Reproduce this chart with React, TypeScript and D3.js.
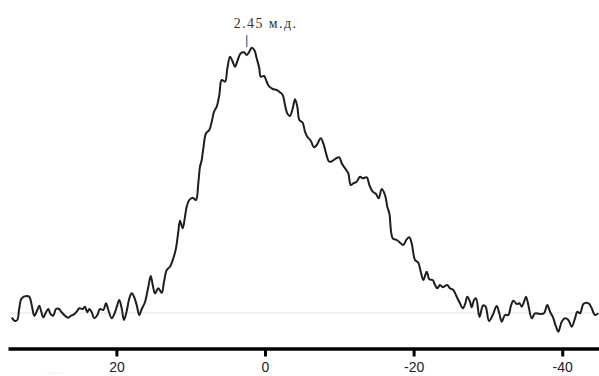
import React, { useRef, useEffect } from 'react';
import * as d3 from 'd3';

// chemical shift (ppm) and intensity (a.u.)
const shifts = [
  34.09, 33.65, 33.34, 33.07, 32.75, 32.07, 31.72, 31.40, 31.05, 30.65, 30.38, 30.11, 29.84, 29.48, 29.17, 28.84,
  28.49, 28.13, 27.73, 27.36, 26.92, 26.47, 26.11, 25.71, 25.34, 24.99, 24.54, 24.23, 23.92, 23.65, 23.32, 22.97,
  22.57, 22.21, 21.76, 21.40, 21.09, 20.63, 20.19, 19.88, 19.61, 19.29, 18.98, 18.61, 18.26, 17.94, 17.63, 17.27,
  16.92, 16.59, 16.15, 15.71, 15.38, 15.11, 14.80, 14.36, 13.90, 13.59, 13.23, 12.79, 12.34, 11.98, 11.67, 11.44,
  11.08, 10.77, 10.54, 10.19, 9.73, 9.29, 8.98, 8.75, 8.52, 8.30, 7.94, 7.50, 7.17, 6.86, 6.50, 6.15,
  5.83, 5.38, 5.07, 4.71, 4.35, 4.04, 3.67, 3.27, 2.83, 2.46, 2.11, 1.79, 1.44, 1.12, 0.77, 0.58,
  0.13, -0.23, -0.58, -1.04, -1.57, -1.92, -2.38, -2.69, -3.00, -3.36, -3.73, -4.04, -4.35, -4.62, -5.07, -5.38,
  -5.69, -6.15, -6.59, -6.96, -7.50, -7.85, -8.21, -8.65, -9.11, -9.56, -10.00, -10.32, -10.77, -11.21, -11.53, -11.88,
  -12.34, -12.79, -13.15, -13.69, -14.04, -14.50, -14.94, -15.30, -15.71, -16.15, -16.46, -16.73, -17.19, -17.73, -18.17, -18.61,
  -19.07, -19.42, -19.74, -20.19, -20.63, -20.96, -21.31, -21.76, -22.11, -22.57, -22.88, -23.19, -23.55, -23.92, -24.23, -24.54,
  -24.90, -25.34, -25.80, -26.24, -26.61, -26.96, -27.23, -27.59, -27.82, -28.13, -28.40, -28.87, -29.34, -29.68, -30.15, -30.65,
  -31.18, -31.53, -31.86, -32.30, -32.75, -33.07, -33.42, -33.88, -34.23, -34.55, -34.86, -35.13, -35.44, -35.90, -36.34, -37.01,
  -37.55, -37.99, -38.36, -38.72, -39.17, -39.48, -39.93, -40.38, -40.82, -41.28, -41.72, -42.03, -42.40, -42.84, -43.30, -43.65,
  -43.97, -44.41, -44.86,
];
const intensity = [
  -4.7, -8, -7, 5, 14.7, 17, 16.3, 8, -2.7, 3, 7.3, 1.3, -4.3, 0.7, 4, -1.3,
  -2.7, 4, 4, 0.7, -2.7, -4.7, -2.7, -1.3, 1.3, 4.7, 4, 6.3, 0.7, 4, 0.7, -5.3,
  -2, 4, 3, 9.7, 3, -5.3, 0.7, 8, 13, 4.7, -7, 2, 14.7, 19.7, 16.3, 8,
  -2, 4, 11, 26, 37, 28, 19.7, 24.7, 20.3, 31.3, 43, 46.3, 54.7, 64.7, 81.3, 92.3,
  84.7, 96.3, 106.3, 113, 115.3, 113, 129.7, 146.3, 153, 164.7, 179.7, 183, 191.3, 201.3, 206.3, 218,
  233, 231.3, 244.7, 256.3, 251.3, 246.3, 253, 259.7, 260.7, 258, 261.3, 265.3, 263, 254.7, 244.7, 236.3,
  237, 231.3, 226.3, 224, 223, 221.3, 218, 208, 199.5, 197, 204.7, 213.7, 206.3, 193, 190.3, 181.3,
  176.3, 172.3, 165.7, 168, 174.7, 169.7, 159.7, 151.3, 152.3, 154.7, 155.7, 149.7, 144.7, 139.7, 128, 129.7,
  131.3, 136.3, 134.7, 135.7, 128, 121.3, 119, 114.7, 124, 118, 106.3, 99.7, 74.7, 73, 70.3, 68,
  73.7, 75.7, 69.7, 53, 50.3, 41.3, 33, 41.3, 33.7, 33, 28, 24.7, 28, 25.7, 27, 28,
  24.7, 23, 16.3, 9.7, 4.7, 9.7, 16.3, 11.3, 5.7, 13, 14.7, -4, 7.5, 6.5, -8, -2,
  7, -0.3, -8.7, -2, -2, 6.3, 12.3, 9, 9.7, 6.3, 11.3, 16.3, 8, -5.3, -0.3, -1,
  -0.3, 8, 1.3, -3.7, -13.7, -18.7, -8.7, -5.3, -7, -13.7, -5.3, 1.3, -0.3, 9, 10.3, 9,
  4.7, -2, -0.3,
];
const tickValues = [20, 0, -20, -40];
const peakShift = 2.45;
const peakLabel = '2.45 м.д.';

const W = 599;
const H = 376;

const Spectrum = () => {
  const svgRef = useRef<SVGSVGElement>(null);

  useEffect(() => {
    const svg = d3.select(svgRef.current);
    svg.selectAll('*').remove();

    const x = d3.scaleLinear().domain([34.59, -44.95]).range([8, W]);
    const y = d3.scaleLinear().domain([0, 265.3]).range([313, 47.7]);

    // faint baseline
    svg.append('line')
      .attr('x1', 10).attr('x2', W)
      .attr('y1', y(0)).attr('y2', y(0))
      .attr('stroke', '#e6e6e6')
      .attr('stroke-width', 1);

    svg.append('line')
      .attr('x1', 47).attr('x2', 62)
      .attr('y1', 373).attr('y2', 373)
      .attr('stroke', '#eeeeee')
      .attr('stroke-width', 1);

    const points = shifts.map((s, i) => [s, intensity[i]] as [number, number]);
    const line = d3.line<[number, number]>()
      .x(d => x(d[0]))
      .y(d => y(d[1]))
      .curve(d3.curveCatmullRom.alpha(0.5));

    svg.append('path')
      .datum(points)
      .attr('d', line)
      .attr('fill', 'none')
      .attr('stroke', '#1e1e1e')
      .attr('stroke-width', 2)
      .attr('stroke-linejoin', 'round');

    const axis = svg.append('g')
      .attr('transform', 'translate(0,348.5)')
      .call(d3.axisBottom(x).tickValues(tickValues).tickFormat(d => String(d))
        .tickSize(8).tickSizeOuter(0).tickPadding(6));
    axis.select('.domain').attr('stroke', '#000').attr('stroke-width', 3.5);
    axis.selectAll('.tick line').attr('stroke', '#000').attr('stroke-width', 3);
    axis.selectAll('.tick text')
      .attr('fill', '#222')
      .style('font-family', '"Liberation Sans", Arial, sans-serif')
      .style('font-size', '14px');

    // peak marker
    const px = x(peakShift);
    svg.append('line')
      .attr('x1', px).attr('x2', px)
      .attr('y1', 35).attr('y2', 47)
      .attr('stroke', '#3c3c78')
      .attr('stroke-width', 1);
    svg.append('text')
      .attr('x', px - 13)
      .attr('y', 28)
      .attr('fill', '#333')
      .style('font-family', '"Liberation Serif", "Times New Roman", serif')
      .style('font-size', '14px')
      .style('letter-spacing', '1.4px')
      .text(peakLabel);
  }, []);

  return (
    <svg ref={svgRef} width={W} height={H}
      style={{ position: 'absolute', left: 0, top: 0, background: '#fff' }} />
  );
};

export default function App() {
  return <Spectrum />;
}
